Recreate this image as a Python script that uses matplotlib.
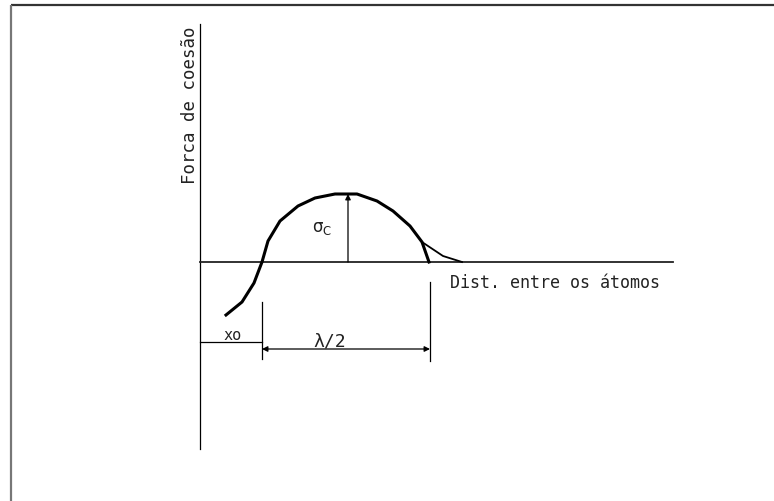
import numpy as np
import matplotlib
matplotlib.use('Agg')
import matplotlib.pyplot as plt

# cohesive force vs. atomic distance (drawing units, origin at axes crossing)
dist = [26, 42, 54, 62, 68, 80, 98, 115, 135, 157, 177, 193, 210, 222, 229]
force = [-53, -40, -21, 0, 21, 41, 56, 64, 68, 68, 61, 51, 36, 20, 0]

# real tail of the curve beyond the idealised sine branch
tail_dist = [222, 243, 262]
tail_force = [20, 6, 0]

sigma_c = 68
x_peak = 148
x0 = 62
x_half = 230

txt = dict(family='DejaVu Sans Mono', color='#222222')

fig = plt.figure(figsize=(7.74, 5.02), dpi=100)
ax = fig.add_axes([0, 0, 1, 1])
ax.set_xlim(-200, 574)
ax.set_ylim(-239, 263)
ax.axis('off')

# sheet frame
ax.plot([-189, 574], [257.5, 257.5], color='#333333', lw=1.6, solid_capstyle='butt')
ax.plot([-189, -189], [257.5, -239], color='#777777', lw=1.6, solid_capstyle='butt')

# axes
ax.plot([0, 0], [238, -187], color='black', lw=0.9)
ax.plot([0, 473], [0, 0], color='#222222', lw=1.3)

ax.plot(dist, force, color='black', lw=2.2, solid_joinstyle='round')
ax.plot(tail_dist, tail_force, color='black', lw=1.3)

# sigma_c arrow
ax.annotate('', xy=(x_peak, sigma_c), xytext=(x_peak, 0),
            arrowprops=dict(arrowstyle='-|>', color='black', lw=0.9,
                            mutation_scale=8, shrinkA=0, shrinkB=0))
ax.text(x_peak - 26, 35, r'$\mathregular{\sigma_C}$', fontsize=12,
        ha='center', va='center', color='#222222')

# dimension lines
ax.plot([x0, x0], [-40, -97], color='black', lw=0.9)
ax.plot([x_half, x_half], [-20, -99], color='black', lw=0.9)
ax.plot([0, x0], [-80, -80], color='black', lw=0.9)
ax.text(x0 / 2 + 2, -73, 'xo', fontsize=11, ha='center', va='center', **txt)
ax.annotate('', xy=(x_half, -87), xytext=(x0, -87),
            arrowprops=dict(arrowstyle='<|-|>', color='black', lw=0.9,
                            mutation_scale=8, shrinkA=0, shrinkB=0))
ax.text(130, -79, 'λ/2', fontsize=13, ha='center', va='center', **txt)

ax.text(250, -20, 'Dist. entre os átomos', fontsize=12, ha='left', va='center', **txt)
ax.text(-10, 158, 'Forca de coesão', fontsize=12.5, rotation=90,
        ha='center', va='center', **txt)

plt.savefig('out.png', dpi=100)
